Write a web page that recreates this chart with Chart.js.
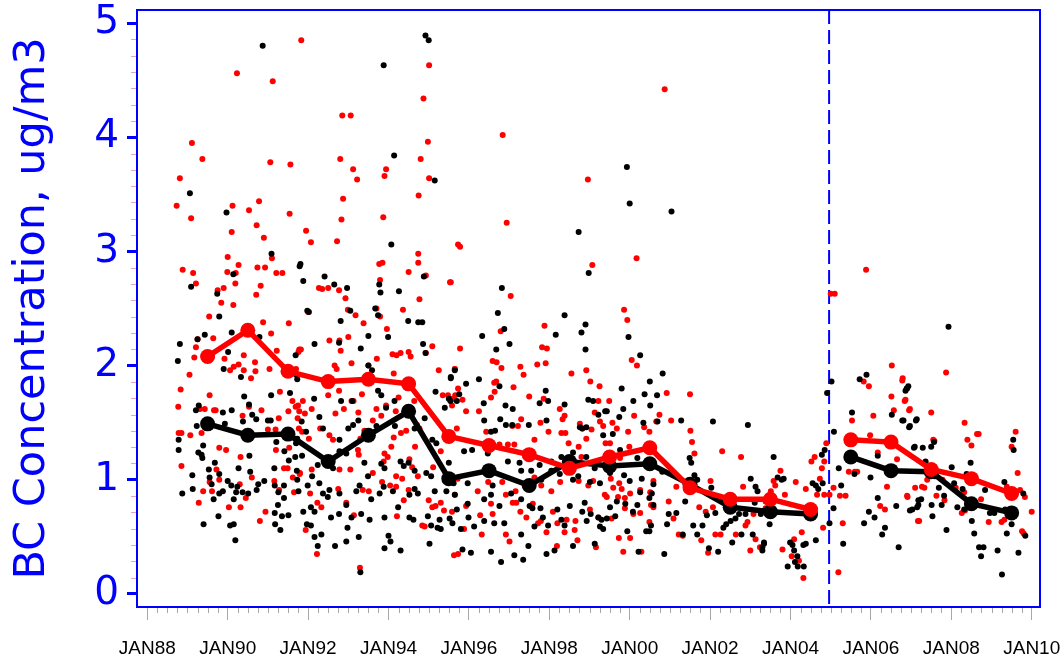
<!DOCTYPE html>
<html>
<head>
<meta charset="utf-8">
<title>BC Concentration</title>
<script src="https://cdn.jsdelivr.net/npm/chart.js@4/dist/chart.umd.min.js"></script>
<style>
  html, body { margin: 0; padding: 0; background: #ffffff; }
  #wrap { width: 1063px; height: 657px; position: relative; }
</style>
</head>
<body>
<div id="wrap"><canvas id="chart" width="1063" height="657"></canvas></div>
<script>
// Individual samples, [decimal year, ug/m3]
const redSamples = [
  [1989.11,3.95],[1989.37,3.81],[1988.81,3.64],[1988.73,3.40],[1989.09,3.29],[1990.23,4.56],[1991.12,4.49],[1991.06,3.78],
  [1991.56,3.76],[1990.12,3.40],[1990.53,3.36],[1990.78,3.44],[1991.54,3.33],[1990.10,3.17],[1990.72,3.23],[1990.90,3.12],
  [1990.00,2.95],[1991.10,2.94],[1990.27,2.88],[1990.74,2.86],[1990.93,2.86],[1991.21,2.81],[1991.36,2.81],[1988.88,2.84],
  [1989.14,2.81],[1989.21,2.72],[1989.99,2.82],[1990.20,2.81],[1990.19,2.72],[1989.90,2.68],[1989.75,2.66],[1990.82,2.70],
  [1990.71,2.62],[1989.84,2.55],[1990.14,2.53],[1989.54,2.43],[1989.25,2.23],[1989.21,2.16],[1989.17,2.07],[1989.64,2.24],
  [1990.88,2.38],[1991.08,2.28],[1991.52,2.37],[1991.22,2.13],[1991.76,2.12],[1989.92,2.06],[1990.06,1.96],[1990.15,1.99],
  [1990.27,2.01],[1990.40,1.96],[1990.68,2.03],[1990.69,1.95],[1990.40,2.09],[1990.58,1.89],[1991.04,1.97],[1989.05,1.92],
  [1988.83,1.79],[1988.77,1.64],[1989.55,1.74],[1989.31,1.62],[1989.43,1.62],[1989.66,1.61],[1989.70,1.61],[1990.37,1.56],
  [1990.53,1.64],[1990.84,1.61],[1991.30,1.77],[1991.51,1.60],[1991.61,1.69],[1991.69,1.64],[1991.74,1.54],[1991.78,1.60],
  [1988.78,1.41],[1988.85,1.41],[1989.07,1.39],[1989.35,1.41],[1991.00,1.44],[1991.19,1.44],[1991.27,1.54],[1991.77,1.45],
  [1989.79,1.28],[1989.96,1.26],[1991.20,1.26],[1991.53,1.28],[1990.32,1.20],[1988.85,1.12],[1989.72,1.09],[1991.40,1.10],
  [1991.49,1.10],[1991.79,1.05],[1989.55,0.98],[1989.79,1.00],[1990.60,1.02],[1990.30,0.96],[1991.16,0.99],[1991.62,1.02],
  [1989.39,0.90],[1989.61,0.90],[1990.45,0.84],[1991.65,0.89],[1991.28,0.91],[1989.28,0.80],[1990.03,0.76],[1990.32,0.76],
  [1990.94,0.72],[1990.80,0.64],
  [1991.83,4.85],[1995.01,4.63],[1994.87,4.34],[1992.85,4.19],[1993.06,4.19],[1994.98,3.96],[1992.80,3.81],[1993.12,3.72],
  [1993.22,3.63],[1993.90,3.66],[1993.94,3.72],[1994.80,3.81],[1995.01,3.64],[1994.75,3.49],[1992.87,3.46],[1992.83,3.28],
  [1993.87,3.30],[1991.95,3.18],[1992.07,3.08],[1992.72,3.09],[1994.74,2.98],[1994.74,2.90],[1993.77,2.89],[1993.85,2.90],
  [1995.53,2.73],[1994.50,2.82],[1993.79,2.75],[1994.93,2.79],[1992.27,2.68],[1992.35,2.67],[1992.50,2.68],[1992.77,2.66],
  [1994.77,2.58],[1992.00,2.47],[1992.93,2.59],[1993.79,2.43],[1993.70,2.50],[1992.99,2.49],[1993.18,2.44],[1994.36,2.49],
  [1993.38,2.37],[1993.96,2.32],[1993.00,2.25],[1991.78,2.14],[1991.82,2.14],[1992.53,2.22],[1992.78,2.22],[1992.81,2.13],
  [1993.71,2.06],[1994.10,2.10],[1994.20,2.09],[1994.30,2.11],[1994.50,2.12],[1994.55,2.08],[1994.93,2.11],[1995.09,2.17],
  [1995.25,1.96],[1995.65,1.97],[1993.08,2.02],[1992.66,2.00],[1992.71,1.97],[1993.50,2.00],[1994.13,1.93],[1991.70,1.97],
  [1991.75,1.65],[1991.87,1.69],[1991.92,1.58],[1992.09,1.62],[1992.50,1.74],[1992.77,1.78],[1993.08,1.69],[1993.13,1.69],
  [1993.34,1.75],[1992.89,1.62],[1992.68,1.58],[1993.25,1.59],[1993.61,1.52],[1993.70,1.62],[1993.82,1.56],[1993.94,1.65],
  [1994.18,1.60],[1994.25,1.72],[1994.64,1.69],[1994.71,1.48],[1994.77,1.45],[1995.35,1.74],[1995.48,1.74],[1995.60,1.71],
  [1991.85,1.42],[1992.30,1.45],[1992.02,1.36],[1992.53,1.39],[1992.62,1.35],[1993.30,1.36],[1993.40,1.43],[1994.13,1.37],
  [1994.31,1.41],[1994.44,1.43],[1993.24,1.26],[1993.26,1.22],[1993.90,1.23],[1994.07,1.29],[1994.66,1.29],[1995.30,1.25],
  [1991.80,1.06],[1992.09,1.09],[1992.78,1.09],[1993.05,1.09],[1993.61,1.06],[1993.88,1.16],[1993.98,1.20],[1994.19,1.03],
  [1994.34,1.01],[1994.52,1.18],[1994.73,1.03],[1994.59,1.11],[1995.11,1.11],[1992.05,0.88],[1992.23,0.80],[1992.33,0.76],
  [1992.75,0.92],[1992.95,0.80],[1993.36,0.91],[1993.51,0.90],[1993.84,0.98],[1994.04,0.95],[1994.19,0.94],[1994.38,0.82],
  [1994.50,0.91],[1994.21,0.68],[1995.00,0.82],[1995.09,0.76],[1995.17,0.77],[1995.30,0.80],[1995.38,0.73],[1995.58,0.72],
  [1991.94,0.56],[1992.22,0.35],[1993.14,0.69],[1994.84,0.60],[1994.90,0.59],[1993.29,0.23],[1995.63,0.34],
  [1996.84,4.02],[1998.96,3.63],[1995.73,3.06],[1995.78,3.04],[1996.94,3.25],[1999.07,2.88],[1995.55,2.73],[1997.04,2.61],
  [1996.79,2.30],[1997.88,2.35],[1997.82,2.16],[1997.94,2.15],[1997.91,2.02],[1995.78,2.15],[1995.65,1.97],[1996.59,2.04],
  [1996.69,2.03],[1996.81,1.98],[1997.28,1.99],[1997.36,1.92],[1997.70,2.01],[1998.92,1.96],[1998.55,1.93],[1999.02,1.86],
  [1999.25,1.82],[1995.73,1.80],[1996.63,1.85],[1996.68,1.86],[1997.11,1.81],[1996.64,1.77],[1996.55,1.72],[1995.66,1.74],
  [1995.58,1.65],[1995.84,1.70],[1995.93,1.60],[1996.25,1.60],[1997.50,1.73],[1997.86,1.71],[1998.26,1.62],[1998.38,1.56],
  [1998.33,1.53],[1997.30,1.53],[1997.08,1.47],[1997.22,1.47],[1997.78,1.50],[1997.98,1.42],[1998.30,1.41],[1998.40,1.41],
  [1998.76,1.49],[1998.82,1.45],[1999.05,1.44],[1999.13,1.59],[1999.22,1.69],[1999.49,1.69],[1999.26,1.51],[1999.34,1.47],
  [1995.70,1.45],[1996.43,1.42],[1996.76,1.31],[1996.97,1.31],[1997.13,1.31],[1997.63,1.35],[1998.48,1.32],[1998.73,1.29],
  [1998.92,1.36],[1999.40,1.32],[1995.56,1.01],[1995.72,1.01],[1996.22,0.90],[1996.48,0.98],[1996.83,0.98],[1996.92,0.87],
  [1997.16,0.90],[1997.63,1.02],[1997.80,0.95],[1998.05,0.90],[1998.27,0.98],[1998.73,0.99],[1998.97,0.95],[1998.80,1.20],
  [1999.09,0.99],[1999.38,0.87],[1995.65,0.87],[1995.93,0.77],[1996.28,0.69],[1996.55,0.79],[1996.59,0.70],[1997.09,0.80],
  [1997.18,0.80],[1997.28,0.72],[1997.43,0.67],[1997.59,0.79],[1997.79,0.64],[1998.09,0.72],[1998.20,0.62],[1998.43,0.65],
  [1998.65,0.64],[1999.01,0.74],[1999.22,0.67],[1995.88,0.57],[1996.32,0.52],[1996.92,0.52],[1997.72,0.62],[1997.93,0.54],
  [1998.38,0.54],[1998.63,0.56],[1995.73,0.35],[1997.01,0.46],[1998.19,0.42],[1998.70,0.47],[1999.16,0.41],
  [2000.87,4.42],[2000.17,2.94],[1999.86,2.49],[1999.94,2.40],[2000.05,2.05],[2000.18,2.00],[2000.92,1.76],[2001.50,1.75],
  [2000.74,1.57],[2001.03,1.52],[2000.66,1.51],[2000.11,1.56],[1999.57,1.50],[1999.68,1.45],[1999.96,1.42],[2000.36,1.46],
  [2000.49,1.42],[2001.51,1.43],[2001.55,1.33],[2001.61,1.23],[2002.30,1.25],[2002.77,1.20],[1999.51,1.32],[1999.99,1.29],
  [1999.76,1.19],[1999.53,1.01],[1999.59,0.93],[1999.74,0.97],[1999.80,0.92],[1999.71,0.85],[1999.88,0.84],[2000.01,0.88],
  [2000.26,0.91],[2000.51,0.89],[2000.59,0.99],[2000.53,0.78],[1999.43,0.85],[1999.55,0.66],[1999.88,0.75],[2000.09,0.70],
  [2000.26,0.71],[2000.49,0.63],[2000.59,0.76],[2000.97,0.81],[2001.16,0.94],[2001.09,0.66],[2001.22,0.52],[2001.32,0.51],
  [2001.73,0.76],[2001.89,0.72],[2002.01,0.99],[2002.07,0.76],[2002.13,0.52],[2002.26,0.52],[2001.78,0.47],[2001.95,0.36],
  [1999.73,0.49],[2000.01,0.49],[1999.84,0.37],[2000.29,0.37],[2002.64,0.52],[2002.82,0.94],[2002.88,0.60],[2002.93,0.63],
  [2003.00,0.38],[2003.13,0.48],[2003.24,0.41],[2003.08,0.70],[2003.38,0.75],
  [2005.88,2.84],[2005.00,2.63],[2005.10,2.63],[2006.52,2.00],[2006.79,1.89],[2005.82,1.86],[2005.95,1.82],[2006.51,1.73],
  [2006.86,1.70],[2006.97,1.62],[2006.57,1.61],[2006.06,1.56],[2005.53,1.52],[2005.98,1.39],[2006.17,1.24],[2006.65,1.18],
  [2005.45,1.07],[2005.60,1.07],[2005.66,1.07],[2004.89,1.32],[2004.60,1.20],[2004.52,1.16],[2004.84,1.16],[2004.78,1.10],
  [2004.73,1.01],[2003.75,1.08],[2003.58,0.99],[2003.62,0.95],[2004.13,0.98],[2004.38,0.92],[2003.86,0.87],[2004.66,0.87],
  [2004.84,0.87],[2004.97,0.87],[2005.07,0.93],[2005.37,0.86],[2005.23,0.86],[2006.40,0.94],[2006.23,0.77],[2006.35,0.74],
  [2006.91,0.85],[2007.20,0.64],[2005.30,0.62],[2004.81,0.58],[2004.28,0.54],[2004.09,0.48],[2004.03,0.33],[2003.80,0.39],
  [2004.21,0.29],[2004.32,0.14],[2005.19,0.19],[2003.51,0.90],[2003.38,0.81],
  [2007.87,1.94],[2006.78,1.87],[2006.84,1.69],[2006.95,1.61],[2007.50,1.59],[2008.33,1.50],[2007.55,1.35],[2007.58,1.34],
  [2008.40,1.35],[2008.50,1.30],[2008.64,1.40],[2008.68,1.40],[2009.60,1.42],[2009.50,1.29],[2009.65,1.06],[2006.90,0.86],
  [2007.10,0.93],[2007.27,0.94],[2007.33,0.93],[2007.78,1.00],[2008.11,0.93],[2008.32,0.89],[2007.63,0.86],[2007.83,0.82],
  [2007.40,1.00],[2007.17,0.64],[2008.26,0.71],[2008.34,0.73],[2008.74,0.83],[2008.93,0.63],[2009.25,0.63],[2009.32,0.65],
  [2009.38,0.94],[2009.71,0.91],[2009.83,0.85],[2010.00,0.72],[2009.76,0.55],[2009.80,0.53]
];

const blackSamples = [
  [1990.87,4.80],[1989.06,3.51],[1989.97,3.34],[1991.09,2.98],[1991.79,2.87],[1989.09,2.69],[1990.14,2.80],[1989.74,2.63],
  [1989.79,2.43],[1990.10,2.29],[1989.43,2.27],[1989.25,2.23],[1988.81,2.19],[1988.76,2.04],[1990.01,2.12],[1989.90,1.97],
  [1990.33,1.90],[1990.79,2.25],[1991.69,2.09],[1991.73,1.88],[1991.55,1.76],[1991.08,1.74],[1990.41,1.73],[1989.21,1.61],
  [1989.28,1.65],[1989.88,1.59],[1990.10,1.61],[1990.53,1.66],[1990.61,1.57],[1990.71,1.53],[1991.00,1.52],[1991.07,1.52],
  [1990.38,1.51],[1989.23,1.47],[1989.93,1.49],[1988.78,1.35],[1988.78,1.26],[1989.39,1.30],[1989.27,1.24],[1989.37,1.19],
  [1989.35,1.22],[1989.68,1.15],[1990.54,1.21],[1991.21,1.33],[1991.41,1.25],[1991.52,1.17],[1991.68,1.20],[1991.73,1.36],
  [1989.12,1.04],[1989.53,1.09],[1989.79,1.05],[1990.27,1.10],[1990.56,1.07],[1991.16,1.10],[1989.55,1.02],[1990.00,0.99],
  [1989.60,0.96],[1990.09,0.95],[1990.24,0.94],[1990.76,0.96],[1990.91,0.99],[1991.17,0.95],[1989.13,0.92],[1988.87,0.88],
  [1989.88,0.90],[1990.21,0.89],[1990.51,0.88],[1990.72,0.91],[1991.26,0.89],[1991.40,0.95],[1991.73,1.00],[1991.76,0.90],
  [1989.65,0.83],[1989.79,0.88],[1990.15,0.83],[1990.37,0.89],[1991.40,0.84],[1991.25,0.78],[1989.77,0.68],[1991.17,0.71],
  [1991.35,0.68],[1991.51,0.69],[1989.40,0.61],[1990.06,0.60],[1990.15,0.61],[1991.18,0.61],[1991.31,0.56],[1990.19,0.47],
  [1994.92,4.89],[1995.00,4.85],[1993.88,4.63],[1994.14,3.84],[1995.15,3.62],[1994.07,3.06],[1991.81,2.89],[1991.88,2.74],
  [1992.41,2.78],[1992.65,2.71],[1992.97,2.68],[1993.77,2.71],[1993.80,2.64],[1994.26,2.65],[1994.88,2.78],[1991.98,2.48],
  [1992.02,2.47],[1993.05,2.48],[1993.67,2.50],[1993.74,2.44],[1994.49,2.39],[1994.74,2.38],[1994.84,2.38],[1992.81,2.39],
  [1993.50,2.26],[1993.99,2.25],[1994.86,2.19],[1994.92,2.11],[1992.16,2.19],[1992.77,2.20],[1993.31,2.15],[1993.50,2.00],
  [1993.59,1.96],[1995.55,1.89],[1995.65,1.96],[1991.70,1.92],[1992.15,1.71],[1992.82,1.69],[1993.10,1.69],[1993.74,1.78],
  [1993.94,1.63],[1993.82,1.74],[1994.15,1.69],[1994.90,1.54],[1995.17,1.77],[1995.40,1.63],[1995.50,1.71],[1995.54,1.69],
  [1991.84,1.51],[1991.95,1.42],[1992.28,1.55],[1992.37,1.45],[1992.78,1.35],[1993.00,1.45],[1993.12,1.48],[1993.25,1.52],
  [1993.70,1.47],[1994.16,1.47],[1994.65,1.45],[1995.09,1.35],[1995.19,1.32],[1991.70,1.32],[1991.85,1.21],[1991.72,1.08],
  [1992.10,1.03],[1991.99,0.95],[1992.24,1.13],[1992.62,1.10],[1992.78,1.25],[1992.95,1.23],[1993.40,1.15],[1993.49,1.03],
  [1993.82,1.14],[1993.90,1.10],[1994.30,1.16],[1994.38,1.12],[1994.50,1.15],[1994.65,1.08],[1994.94,1.06],[1995.06,1.03],
  [1995.50,1.15],[1992.28,0.97],[1992.37,0.88],[1992.49,0.85],[1992.53,0.91],[1992.78,0.88],[1993.20,0.90],[1993.28,0.95],
  [1993.57,0.83],[1993.78,0.88],[1993.88,0.94],[1994.11,0.90],[1994.52,0.87],[1994.65,0.92],[1994.73,0.88],[1995.15,0.90],
  [1995.44,0.90],[1991.88,0.72],[1992.07,0.76],[1992.16,0.72],[1992.57,0.67],[1992.77,0.70],[1992.95,0.78],[1993.08,0.67],
  [1993.32,0.70],[1993.53,0.65],[1993.90,0.67],[1994.24,0.76],[1994.52,0.67],[1994.62,0.65],[1994.98,0.68],[1995.06,0.60],
  [1995.27,0.65],[1995.52,0.66],[1991.97,0.61],[1992.07,0.60],[1992.33,0.52],[1992.16,0.50],[1992.24,0.42],[1992.67,0.42],
  [1992.98,0.58],[1992.95,0.46],[1993.26,0.50],[1994.00,0.51],[1993.90,0.40],[1994.05,0.46],[1994.30,0.38],[1995.02,0.44],
  [1995.22,0.58],[1995.30,0.57],[1993.30,0.19],
  [1998.73,3.17],[1998.98,2.81],[1996.82,2.68],[1996.72,2.46],[1998.38,2.44],[1998.90,2.36],[1998.80,2.29],[1998.90,2.14],
  [1996.88,2.32],[1997.01,2.19],[1998.16,2.27],[1996.33,2.26],[1996.68,2.14],[1996.25,1.88],[1995.93,1.84],[1995.55,1.90],
  [1996.76,1.82],[1997.91,1.78],[1997.76,1.67],[1997.97,1.69],[1998.97,1.70],[1999.09,1.69],[1999.39,1.60],[1996.37,1.67],
  [1996.91,1.65],[1997.09,1.62],[1995.70,1.69],[1995.76,1.75],[1996.78,1.53],[1996.92,1.48],[1997.08,1.48],[1997.49,1.48],
  [1997.93,1.52],[1998.38,1.66],[1998.76,1.46],[1998.82,1.45],[1998.92,1.46],[1999.22,1.57],[1999.34,1.39],[1996.38,1.52],
  [1996.55,1.42],[1996.65,1.43],[1995.88,1.25],[1996.08,1.26],[1996.47,1.23],[1996.97,1.16],[1997.26,1.15],[1997.76,1.13],
  [1998.05,1.16],[1998.30,1.20],[1998.51,1.16],[1998.59,1.24],[1998.92,1.20],[1999.13,1.10],[1999.43,1.13],[1995.62,0.97],
  [1995.97,0.97],[1995.65,0.87],[1996.59,0.95],[1997.30,1.08],[1997.55,1.08],[1997.80,1.00],[1998.05,1.08],[1998.26,1.05],
  [1998.59,1.00],[1998.72,1.03],[1999.01,0.98],[1999.26,0.97],[1999.51,1.06],[1995.70,0.74],[1995.97,0.79],[1995.99,0.67],
  [1996.38,0.83],[1996.55,0.87],[1996.76,0.77],[1997.05,0.88],[1997.30,0.83],[1997.51,0.77],[1997.58,0.75],[1997.78,0.75],
  [1997.84,0.67],[1998.20,0.74],[1998.51,0.77],[1998.82,0.72],[1998.88,0.80],[1999.03,0.70],[1999.22,0.67],[1999.30,0.65],
  [1995.59,0.62],[1995.80,0.57],[1996.13,0.59],[1996.38,0.64],[1996.63,0.62],[1996.88,0.62],[1997.30,0.52],[1997.63,0.59],
  [1997.97,0.60],[1998.30,0.65],[1998.38,0.60],[1998.93,0.64],[1999.26,0.59],[1999.34,0.57],[1995.84,0.39],[1996.05,0.36],
  [1996.55,0.37],[1996.80,0.28],[1997.13,0.34],[1997.35,0.30],[1997.48,0.42],[1997.93,0.35],[1998.13,0.38],[1998.59,0.42],
  [1999.13,0.44],
  [1999.93,3.74],[2000.00,3.42],[2001.04,3.35],[1999.97,2.25],[2000.26,2.09],[2000.82,1.93],[2000.50,1.86],[1999.80,1.80],
  [2000.68,1.74],[2000.37,1.75],[2000.09,1.69],[2000.51,1.65],[1999.84,1.62],[1999.74,1.55],[1999.43,1.60],[2000.34,1.50],
  [2000.69,1.51],[2001.28,1.52],[2002.07,1.51],[2002.94,1.48],[1999.58,1.40],[1999.76,1.26],[2000.19,1.19],[2001.49,1.19],
  [2001.53,1.15],[2001.61,1.04],[1999.43,1.12],[1999.86,1.04],[2000.00,0.99],[2000.30,1.01],[2000.59,0.96],[2000.81,1.07],
  [2001.38,0.81],[2001.68,1.00],[2002.03,0.93],[2001.93,0.88],[1999.51,0.76],[1999.68,0.81],[1999.89,0.79],[2000.19,0.78],
  [2000.08,0.72],[2000.49,0.84],[2000.26,0.89],[2000.55,0.88],[2000.59,0.78],[2000.97,0.70],[2001.16,0.71],[2000.93,0.61],
  [2001.58,0.60],[2001.81,0.60],[2001.92,0.69],[2002.13,0.71],[2002.33,0.58],[2002.40,0.61],[2002.51,0.64],[2002.63,0.66],
  [2002.72,0.70],[2002.88,0.70],[2003.01,1.01],[2003.13,0.94],[2003.18,0.90],[2003.11,0.80],[2003.26,0.70],[1999.43,0.66],
  [1999.64,0.68],[1999.94,0.55],[2000.22,0.37],[2000.53,0.60],[2000.41,0.55],[2000.49,0.55],[2000.86,0.35],[2001.32,0.52],
  [2001.68,0.52],[2001.97,0.40],[2002.20,0.37],[2002.55,0.45],[2002.78,0.52],[2003.06,0.52],[2003.34,0.45],[2003.30,0.38],
  [2005.02,1.86],[2004.91,1.76],[2005.08,1.42],[2005.72,1.88],[2005.89,1.92],[2005.53,1.59],[2006.89,1.80],[2006.93,1.82],
  [2006.52,1.57],[2006.81,1.52],[2006.97,1.47],[2007.14,1.53],[2007.09,1.29],[2006.17,1.21],[2005.99,1.02],[2005.20,1.10],
  [2005.59,1.05],[2003.58,1.20],[2003.68,1.02],[2003.78,1.00],[2003.83,1.01],[2004.85,1.26],[2004.78,1.22],[2004.55,0.97],
  [2004.63,0.95],[2004.69,0.92],[2004.80,0.97],[2005.26,0.95],[2005.07,0.75],[2004.97,0.62],[2005.31,0.44],[2004.63,0.47],
  [2004.38,0.44],[2004.32,0.43],[2003.99,0.45],[2004.05,0.43],[2004.09,0.38],[2004.17,0.33],[2004.11,0.28],[2003.93,0.24],
  [2004.18,0.24],[2004.33,0.24],[2003.34,0.44],[2003.48,0.61],[2003.30,0.41],[2005.83,0.62],[2005.95,0.72],[2006.09,0.67],
  [2006.17,0.84],[2006.28,0.52],[2006.35,0.58],[2006.63,0.77],[2006.69,0.41],[2006.97,0.73],[2007.15,0.76],[2007.18,0.82],
  [2007.93,2.34],[2006.86,1.78],[2006.90,1.80],[2006.78,1.52],[2006.95,1.46],[2007.12,1.52],[2007.07,1.28],[2007.29,1.28],
  [2007.50,1.29],[2007.57,1.33],[2008.48,1.15],[2008.01,1.11],[2009.54,1.35],[2009.55,1.26],[2007.36,1.16],[2007.59,1.03],
  [2008.07,0.97],[2008.28,0.92],[2008.38,1.05],[2008.84,0.91],[2009.32,0.98],[2009.79,0.88],[2007.69,0.93],[2007.82,0.86],
  [2007.25,0.83],[2007.18,0.78],[2007.03,0.74],[2007.51,0.78],[2007.76,0.78],[2007.53,0.68],[2008.15,0.76],[2008.32,0.74],
  [2008.96,0.71],[2009.07,0.71],[2009.34,0.74],[2009.50,0.61],[2009.38,0.53],[2008.51,0.64],[2008.57,0.53],[2007.88,0.56],
  [2008.69,0.41],[2008.80,0.41],[2008.74,0.33],[2009.15,0.38],[2009.67,0.36],[2009.26,0.17],[2009.84,0.51]
];

// Annual means, plotted at mid-year
const meanYears  = [1989.5,1990.5,1991.5,1992.5,1993.5,1994.5,1995.5,1996.5,1997.5,1998.5,1999.5,2000.5,2001.5,2002.5,2003.5,2004.5,2005.5,2006.5,2007.5,2008.5,2009.5];
const redMeans   = [2.08,2.31,1.95,1.86,1.88,1.84,1.38,1.30,1.22,1.10,1.20,1.28,0.93,0.83,0.83,0.74,1.35,1.33,1.09,1.01,0.88];
const blackMeans = [1.49,1.39,1.40,1.16,1.39,1.60,1.01,1.08,0.95,1.16,1.12,1.14,0.96,0.76,0.72,0.70,1.20,1.08,1.07,0.79,0.71];

// Break between the two monitoring periods
const breakYear = 2004.96;

// Axis ticks
const xTickYears  = [1988,1990,1992,1994,1996,1998,2000,2002,2004,2006,2008,2010];
const yTickValues = [0,1,2,3,4,5];
const yTitle = 'BC Concentration, ug/m3';

const BLUE = '#0000ff';

function toPoints(pairs) {
  return pairs.map(p => ({ x: p[0], y: p[1] }));
}
function meanSeries(values) {
  const pts = [];
  meanYears.forEach((yr, i) => {
    if (i > 0 && meanYears[i - 1] < breakYear && yr > breakYear) pts.push({ x: breakYear, y: null });
    pts.push({ x: yr, y: values[i] });
  });
  return pts;
}
function tickLabel(v) {
  return 'JAN' + String(Math.round(v) % 100).padStart(2, '0');
}

// Frame, period divider and minor tick marks
const decorations = {
  id: 'decorations',
  beforeDatasetsDraw(chart) {
    const { ctx, chartArea: a, scales: { x } } = chart;
    const px = x.getPixelForValue(breakYear);
    ctx.save();
    ctx.strokeStyle = BLUE;
    ctx.lineWidth = 2;
    ctx.setLineDash([14, 6]);
    ctx.beginPath();
    ctx.moveTo(px, a.top);
    ctx.lineTo(px, a.bottom);
    ctx.stroke();
    ctx.restore();
  },
  afterDraw(chart) {
    const { ctx, chartArea: a, scales: { x, y } } = chart;
    ctx.save();
    // minor x ticks, quarterly
    ctx.strokeStyle = '#a8a8a8';
    ctx.lineWidth = 1;
    ctx.beginPath();
    for (let yr = 1988; yr < 2010; yr++) {
      for (let q = 0; q < 4; q++) {
        const v = yr + q / 4;
        if (q === 0 && yr % 2 === 0) continue;
        const px = Math.round(x.getPixelForValue(v)) + 0.5;
        ctx.moveTo(px, a.bottom + 1);
        ctx.lineTo(px, a.bottom + 6);
      }
    }
    ctx.stroke();
    // minor y ticks
    ctx.strokeStyle = '#eaa6b0';
    ctx.beginPath();
    for (let k = 0; k < 5; k++) {
      for (let j = 1; j < 7; j++) {
        const py = Math.round(y.getPixelForValue(k + j / 7)) + 0.5;
        ctx.moveTo(a.left - 6, py);
        ctx.lineTo(a.left - 1, py);
      }
    }
    ctx.stroke();
    // plot frame
    ctx.strokeStyle = BLUE;
    ctx.lineWidth = 2;
    ctx.strokeRect(a.left, a.top, a.right - a.left, a.bottom - a.top);
    ctx.restore();
  }
};

new Chart(document.getElementById('chart'), {
  type: 'scatter',
  data: {
    datasets: [
      {
        label: 'red mean', data: meanSeries(redMeans), showLine: true, spanGaps: false,
        borderColor: '#ff0000', backgroundColor: '#ff0000', borderWidth: 5.5,
        pointRadius: 7.5, pointBorderWidth: 0, order: 0
      },
      {
        label: 'black mean', data: meanSeries(blackMeans), showLine: true, spanGaps: false,
        borderColor: '#000000', backgroundColor: '#000000', borderWidth: 5.5,
        pointRadius: 7.5, pointBorderWidth: 0, order: 1
      },
      {
        label: 'black samples', data: toPoints(blackSamples),
        backgroundColor: '#000000', borderWidth: 0, pointRadius: 3, order: 2
      },
      {
        label: 'red samples', data: toPoints(redSamples),
        backgroundColor: '#ff0000', borderWidth: 0, pointRadius: 3, order: 3
      }
    ]
  },
  options: {
    responsive: false,
    animation: false,
    devicePixelRatio: 1,
    layout: { padding: { top: 10, right: 23, bottom: 0, left: 0 } },
    plugins: { legend: { display: false }, tooltip: { enabled: false } },
    scales: {
      x: {
        type: 'linear',
        min: 1987.744,
        max: 2010.206,
        afterBuildTicks: s => { s.ticks = xTickYears.map(v => ({ value: v })); },
        afterFit: s => { s.height = 50; s.paddingLeft = 0; s.paddingRight = 0; },
        ticks: {
          callback: v => tickLabel(v),
          color: '#000000',
          font: { family: 'Liberation Sans', size: 19 },
          maxRotation: 0, minRotation: 0, autoSkip: false,
          padding: 17
        },
        grid: { drawOnChartArea: false, drawTicks: true, tickLength: 13, tickColor: '#a8a8a8', tickWidth: 1 },
        border: { display: true, color: BLUE, width: 2 }
      },
      y: {
        type: 'linear',
        min: -0.114,
        max: 5.114,
        afterBuildTicks: s => { s.ticks = yTickValues.map(v => ({ value: v })); },
        afterFit: s => { s.width = 137; s.paddingTop = 0; s.paddingBottom = 0; },
        ticks: {
          color: BLUE,
          font: { family: 'DejaVu Sans', size: 39 },
          padding: 8
        },
        grid: { drawOnChartArea: false, drawTicks: true, tickLength: 10, tickColor: BLUE, tickWidth: 3 },
        border: { display: true, color: BLUE, width: 2 },
        title: {
          display: true,
          text: yTitle,
          color: BLUE,
          font: { family: 'DejaVu Sans', size: 43, lineHeight: 1 },
          padding: { top: 11, bottom: 0 }
        }
      }
    }
  },
  plugins: [decorations]
});
</script>
</body>
</html>
